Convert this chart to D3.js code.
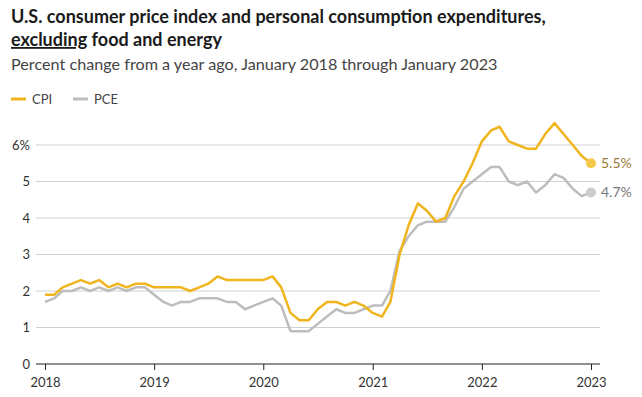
<!DOCTYPE html>
<meta charset="utf-8">
<style>
body { margin: 0; background: #fff; font-family: "Lato", sans-serif; }
.title { font-size: 18px; font-weight: 700; fill: #1a1a1a; }
.subtitle { font-size: 16.2px; fill: #444; }
.legend { font-size: 13px; fill: #444; }
.axis text { font-size: 13px; fill: #333; font-family: "Lato", sans-serif; }
.grid line { stroke: #d0d0d0; stroke-width: 1px; }
.line { fill: none; stroke-width: 2.5px; stroke-linejoin: round; }
</style>
<body>
<script src="https://d3js.org/d3.v7.min.js"></script>
<script>

// monthly data, Jan 2018 - Jan 2023
var cpi = [
  1.9, 1.9, 2.1, 2.2, 2.3, 2.2, 2.3, 2.1, 2.2, 2.1, 2.2, 2.2,
  2.1, 2.1, 2.1, 2.1, 2.0, 2.1, 2.2, 2.4, 2.3, 2.3, 2.3, 2.3,
  2.3, 2.4, 2.1, 1.4, 1.2, 1.2, 1.5, 1.7, 1.7, 1.6, 1.7, 1.6,
  1.4, 1.3, 1.7, 3.0, 3.8, 4.4, 4.2, 3.9, 4.0, 4.6, 5.0, 5.5,
  6.1, 6.4, 6.5, 6.1, 6.0, 5.9, 5.9, 6.3, 6.6, 6.3, 6.0, 5.7,
  5.5
];
var pce = [
  1.7, 1.8, 2.0, 2.0, 2.1, 2.0, 2.1, 2.0, 2.1, 2.0, 2.1, 2.1,
  1.9, 1.7, 1.6, 1.7, 1.7, 1.8, 1.8, 1.8, 1.7, 1.7, 1.5, 1.6,
  1.7, 1.8, 1.6, 0.9, 0.9, 0.9, 1.1, 1.3, 1.5, 1.4, 1.4, 1.5,
  1.6, 1.6, 2.0, 3.1, 3.5, 3.8, 3.9, 3.9, 3.9, 4.3, 4.8, 5.0,
  5.2, 5.4, 5.4, 5.0, 4.9, 5.0, 4.7, 4.9, 5.2, 5.1, 4.8, 4.6,
  4.7
];
var yTicks = [0, 1, 2, 3, 4, 5, 6];
var xTicks = [2018, 2019, 2020, 2021, 2022, 2023];

var width = 642, height = 397;

var svg = d3.select("body").append("svg")
    .attr("width", width)
    .attr("height", height);

// titles
svg.append("text").attr("class", "title").attr("x", 11).attr("y", 23)
    .text("U.S. consumer price index and personal consumption expenditures,");
var t2 = svg.append("text").attr("class", "title").attr("x", 11).attr("y", 46);
t2.append("tspan").attr("text-decoration", "underline").text("excluding");
t2.append("tspan").text(" food and energy");
svg.append("text").attr("class", "subtitle").attr("x", 11).attr("y", 70)
    .text("Percent change from a year ago, January 2018 through January 2023");

// legend
var legend = [{name: "CPI", color: "#f0b41c", x: 11}, {name: "PCE", color: "#bdbdbd", x: 73}];
legend.forEach(function(d) {
  svg.append("line").attr("x1", d.x).attr("x2", d.x + 15).attr("y1", 99).attr("y2", 99)
      .attr("stroke", d.color).attr("stroke-width", 3);
  svg.append("text").attr("class", "legend").attr("x", d.x + 21).attr("y", 104).text(d.name);
});

// scales
var x = d3.scaleTime()
    .domain([new Date(2018, 0, 1), new Date(2023, 0, 1)])
    .range([45, 591]);
var y = d3.scaleLinear().domain([0, 6]).range([364, 145]);

var dates = cpi.map(function(d, i) { return new Date(2018, i, 1); });

// grid
svg.append("g").attr("class", "grid")
  .selectAll("line").data(yTicks.slice(1)).enter().append("line")
    .attr("x1", 36).attr("x2", 600)
    .attr("y1", function(d) { return y(d); })
    .attr("y2", function(d) { return y(d); });

// y axis labels
svg.append("g").attr("class", "axis")
  .selectAll("text").data(yTicks).enter().append("text")
    .attr("x", 30).attr("y", function(d) { return y(d); })
    .attr("dy", "0.35em")
    .attr("text-anchor", "end")
    .text(function(d) { return d === 6 ? "6%" : d; });

// x axis
var xAxis = svg.append("g").attr("class", "axis")
    .attr("transform", "translate(0," + y(0) + ")")
    .call(d3.axisBottom(x)
      .tickValues(xTicks.map(function(v) { return new Date(v, 0, 1); }))
      .tickFormat(d3.timeFormat("%Y"))
      .tickSize(6).tickSizeOuter(0));
xAxis.select(".domain").remove();
xAxis.append("line").attr("x1", 36).attr("x2", 600).attr("stroke", "#222").attr("stroke-width", 1.2);
xAxis.selectAll(".tick line").attr("stroke", "#222");
xAxis.selectAll(".tick text").attr("y", 14).attr("dy", "0.71em");

// lines
var line = d3.line()
    .x(function(d, i) { return x(dates[i]); })
    .y(function(d) { return y(d); });

svg.append("path").datum(pce).attr("class", "line").attr("stroke", "#bdbdbd").attr("d", line);
svg.append("path").datum(cpi).attr("class", "line").attr("stroke", "#f0b41c").attr("d", line);

// end points
var ends = [
  {v: pce[pce.length - 1], color: "#cccccc", text: "#777"},
  {v: cpi[cpi.length - 1], color: "#f5c84a", text: "#9c7a3a"}
];
ends.forEach(function(d) {
  svg.append("circle").attr("cx", x(dates[dates.length - 1])).attr("cy", y(d.v))
      .attr("r", 5).attr("fill", d.color);
  svg.append("text").attr("x", x(dates[dates.length - 1]) + 10).attr("y", y(d.v) + 5)
      .attr("font-size", 14).attr("fill", d.text).text(d.v.toFixed(1) + "%");
});

</script>
</body>
